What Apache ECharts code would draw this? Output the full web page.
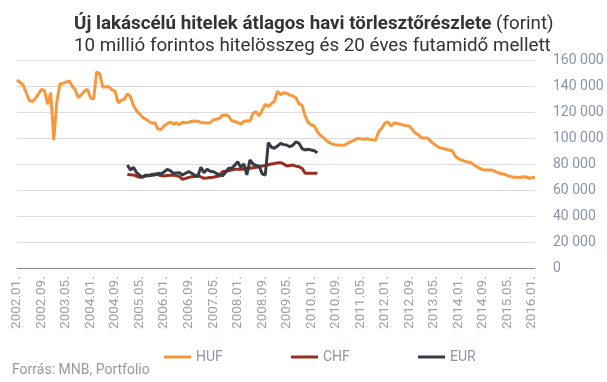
<!DOCTYPE html>
<html><head><meta charset="utf-8">
<script src="https://cdn.jsdelivr.net/npm/echarts@6/dist/echarts.min.js"></script>
<style>html,body{margin:0;padding:0;background:#fff}#c{width:607px;height:382px}</style>
</head><body><div id="c"></div>
<script>
// Categories: monthly, 2002.01. .. 2016.02.
var startYear = 2002, monthCount = 170;
var categories = [];
for (var i = 0; i < monthCount; i++) {
  var y = startYear + Math.floor(i / 12), m = (i % 12) + 1;
  categories.push(y + '.' + (m < 10 ? '0' + m : m) + '.');
}
var hufValues = [
144600,142800,140800,135000,129000,128000,130500,134000,137500,136500,
126000,135000,98500,128000,141500,142000,143000,144000,140000,137000,
131000,133500,136000,137500,131000,130000,151000,149500,139000,139500,
139500,137000,136000,127000,129000,129800,134000,132000,125000,121000,
118500,116000,114500,113000,111500,111800,107000,106500,109500,111000,
112300,110800,111800,110300,112200,111800,112000,113000,113100,113000,
112000,111800,111600,111800,114000,114500,115000,117500,117800,117000,
113500,112800,112000,110800,112800,113300,113000,119000,120300,117000,
121500,126000,124200,126500,128500,136000,133300,134800,134400,133000,
132400,131000,126300,125400,117000,112000,110200,109300,105000,102000,
100500,98000,96500,95300,94800,94700,94600,94700,96200,97300,
98200,99800,99600,99100,99500,99200,98600,98600,105000,107500,
111500,112400,109300,111600,111300,110800,110000,109600,109300,106500,
103800,102500,100200,100100,100000,97500,95500,94000,92500,92000,
91400,90800,90300,86000,84300,83200,82300,81700,81400,79500,
78000,76800,75800,75500,75500,75500,74500,73400,72600,72300,
71200,70500,69900,69900,69800,70200,70400,69100,69500,69900
];
// CHF and EUR start at index 36 (2005.01.) and end at index 98 (2010.03.)
var fxStartIndex = 36;
var chfValues = [
72000,71800,71700,70800,69900,70300,70900,71500,72000,72400,
71800,71200,70900,71200,71500,71700,71000,70400,68400,69000,
69800,70400,70600,70900,70200,69100,69400,69700,69900,70500,
70900,74200,74500,75000,75500,76000,76000,76000,76200,76600,
76800,77200,77600,78000,78600,79000,79600,80100,80500,81000,
81100,80200,78600,79000,79300,78500,78000,76800,73000,73000,
73000,73000,73000
];
var eurValues = [
79400,75500,77600,73500,71500,70000,71700,71000,71500,71700,
73000,72400,74000,76000,75000,73000,73200,73400,71700,73000,
74200,73000,71500,70900,77600,73400,76000,74500,74200,73000,
72000,70900,73500,76800,76800,79000,81900,77600,80100,71700,
83200,80100,79000,78600,72500,71700,96500,93000,92200,93900,
96000,95000,94700,93400,94500,97200,96000,92000,90900,91400,
90800,90300,88800
];
var yTicks = [0,20000,40000,60000,80000,100000,120000,140000,160000];
var seriesNames = ['HUF','CHF','EUR'];
var colors = ['#f7983e','#9b2c20','#363b45'];

function pad(arr){
  var out = [];
  for (var i = 0; i < monthCount; i++) {
    var j = i - fxStartIndex;
    out.push(j >= 0 && j < arr.length ? arr[j] : null);
  }
  return out;
}
var FONT = 'Roboto, "Noto Sans", sans-serif';
var chart = echarts.init(document.getElementById('c'), null, {renderer:'canvas'});
function fmt(v){ return String(v).replace(/\B(?=(\d{3})+(?!\d))/g, ' '); }
var legendLefts = [159, 286, 413];
chart.setOption({
  animation:false,
  backgroundColor:'#fff',
  textStyle:{fontFamily:FONT},
  title:{
    left:69, top:10, itemGap:3,
    text:'{b|Új lakáscélú hitelek átlagos havi törlesztőrészlete} {n|(forint)}',
    subtext:'10 millió forintos hitelösszeg és 20 éves futamidő mellett',
    textStyle:{rich:{
      b:{fontFamily:FONT,fontSize:18.8,fontWeight:'bold',color:'#333'},
      n:{fontFamily:FONT,fontSize:18.8,fontWeight:'normal',color:'#333'}
    }},
    subtextStyle:{fontFamily:FONT,fontSize:18.8,color:'#333'}
  },
  legend: seriesNames.map(function(n,i){
    return {data:[n], left:legendLefts[i], top:345, itemWidth:27, itemHeight:3, itemGap:4,
      icon:'rect', textStyle:{color:'#8d97a3', fontSize:14, fontFamily:FONT}};
  }),
  grid:{left:17, right:72, top:60, bottom:113.7, containLabel:false},
  xAxis:{
    type:'category', data:categories, boundaryGap:false,
    axisLine:{show:true, lineStyle:{color:'#888', width:1}},
    axisTick:{show:false},
    axisLabel:{interval:7, rotate:90, margin:8, color:'#a0a0a0', fontSize:13.5, fontFamily:FONT},
    splitLine:{show:false}
  },
  yAxis:{
    type:'value', position:'right', min:0, max:160000, interval:20000,
    axisLine:{show:false}, axisTick:{show:false},
    axisLabel:{margin:18, color:'#8796a8', fontSize:14, fontFamily:FONT, formatter:fmt},
    splitLine:{lineStyle:{color:'#dcdcdc', width:1}}
  },
  series:[
    {name:'HUF', type:'line', data:hufValues, showSymbol:false, lineStyle:{width:3, color:colors[0]}, itemStyle:{color:colors[0]}, z:3},
    {name:'CHF', type:'line', data:pad(chfValues), showSymbol:false, lineStyle:{width:3, color:colors[1]}, itemStyle:{color:colors[1]}, z:4},
    {name:'EUR', type:'line', data:pad(eurValues), showSymbol:false, lineStyle:{width:3, color:colors[2]}, itemStyle:{color:colors[2]}, z:5}
  ],
  graphic:[{type:'text', left:12, top:363, style:{text:'Forrás: MNB, Portfolio', fill:'#999', fontSize:14, fontFamily:FONT}}]
});
</script></body></html>
